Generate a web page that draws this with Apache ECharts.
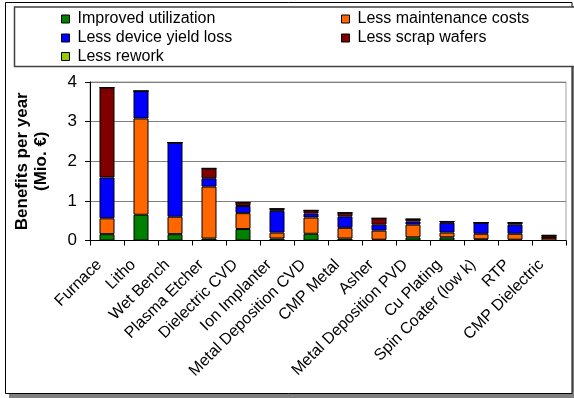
<!DOCTYPE html>
<html><head><meta charset="utf-8">
<script src="https://cdn.jsdelivr.net/npm/echarts@6/dist/echarts.min.js"></script>
<style>html,body{margin:0;padding:0;background:#fff}#c{width:574px;height:398px}</style>
</head><body><div id="c"></div>
<script>
var categories = ["Furnace","Litho","Wet Bench","Plasma Etcher","Dielectric CVD","Ion Implanter","Metal Deposition CVD","CMP Metal","Asher","Metal Deposition PVD","Cu Plating","Spin Coater (low k)","RTP","CMP Dielectric"];
var improvedUtilization = [0.16,0.65,0.16,0.05,0.29,0.05,0.17,0.05,0.02,0.08,0.08,0.03,0.02,0.00];
var lessMaintenance     = [0.40,2.43,0.44,1.31,0.40,0.15,0.41,0.27,0.23,0.32,0.12,0.14,0.15,0.07];
var lessYieldLoss       = [1.03,0.69,1.87,0.21,0.18,0.55,0.10,0.29,0.15,0.08,0.25,0.28,0.23,0.00];
var lessScrap           = [2.27,0.00,0.00,0.25,0.09,0.05,0.08,0.09,0.16,0.06,0.03,0.00,0.05,0.06];
var lessRework          = [0,0,0,0,0,0,0,0,0,0,0,0,0,0];
var seriesNames = ["Improved utilization","Less maintenance costs","Less device yield loss","Less scrap wafers","Less rework"];
var yTicks = [0,1,2,3,4];

var colors = ["#008000","#FF6600","#0000FF","#800000","#99CC00"];
var dataSets = [improvedUtilization,lessMaintenance,lessYieldLoss,lessScrap,lessRework];
var font = "'Liberation Sans', Arial, sans-serif";

var series = seriesNames.map(function(n,i){
  return {name:n,type:'bar',stack:'s',barWidth:15,data:dataSets[i],
    itemStyle:{color:colors[i],borderColor:'#000',borderWidth:1},
    emphasis:{disabled:true}};
});

var legendPos = [[61,10],[341,10],[61,29],[341,29],[61,47.5]];
var legends = seriesNames.map(function(n,i){
  return {data:[n],left:legendPos[i][0],top:legendPos[i][1],itemWidth:8,itemHeight:8,itemGap:0,padding:0,
    icon:'rect',selectedMode:false,textStyle:{fontFamily:font,fontSize:16,lineHeight:18,color:'#000',padding:[0,0,0,3]},
    itemStyle:{borderColor:'#000',borderWidth:1}};
});

var chart = echarts.init(document.getElementById('c'),null,{renderer:'canvas'});
chart.setOption({
  animation:false,
  backgroundColor:'#fff',
  graphic:[
    {type:'rect',shape:{x:9,y:6,width:566,height:392},style:{fill:'#808080'},z:-10},
    {type:'rect',shape:{x:5.5,y:2.5,width:566.5,height:391},style:{fill:'#fff',stroke:'#000',lineWidth:1},z:-9},
    {type:'rect',shape:{x:14.5,y:7,width:570,height:59.5},style:{fill:'#fff',stroke:'#404040',lineWidth:1.5},z:-8}
  ],
  legend:legends,
  grid:{left:90,right:8,top:82,bottom:157.5,show:true,borderColor:'#a0a0a0',borderWidth:1,containLabel:false},
  xAxis:{type:'category',data:categories,
    axisLine:{lineStyle:{color:'#000',width:1}},
    axisTick:{show:true,length:5,lineStyle:{color:'#000'}},
    axisLabel:{interval:0,rotate:45,fontFamily:font,fontSize:16,color:'#000',margin:14,padding:[0,11,0,0]}},
  yAxis:{type:'value',min:0,max:4,interval:1,
    name:'Benefits per year\n(Mio. €)',nameLocation:'middle',nameRotate:90,nameGap:39,
    nameTextStyle:{fontFamily:font,fontSize:17,fontWeight:'bold',color:'#000',lineHeight:19},
    axisLine:{show:true,lineStyle:{color:'#000'}},
    axisTick:{show:true,length:5,lineStyle:{color:'#000'}},
    axisLabel:{fontFamily:font,fontSize:17,color:'#000',margin:13},
    splitLine:{show:true,lineStyle:{color:'#808080',width:1}}},
  series:series
});
</script></body></html>
